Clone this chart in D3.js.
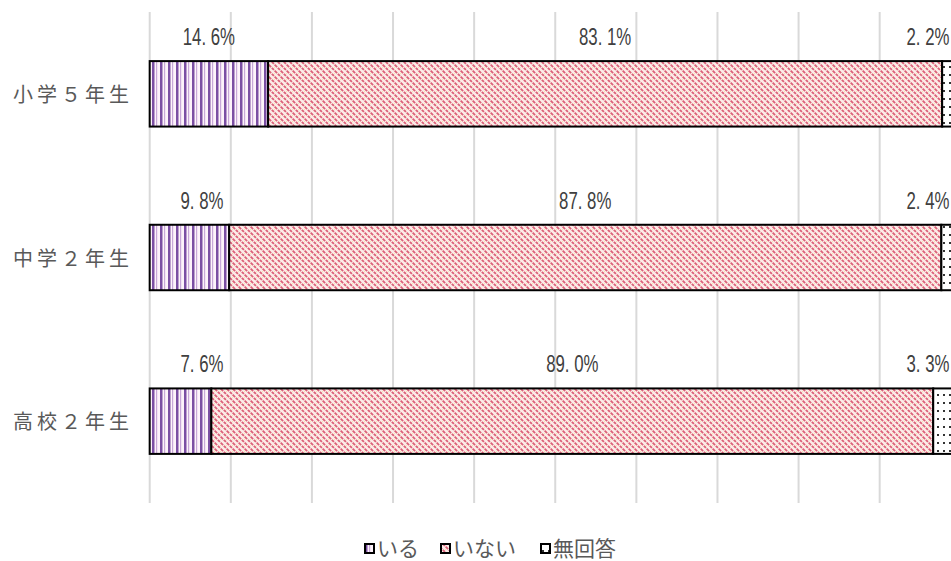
<!DOCTYPE html>
<html>
<head>
<meta charset="utf-8">
<script src="https://cdn.jsdelivr.net/npm/d3@7"></script>
<style>
body { margin: 0; background: #fff; }
</style>
</head>
<body>
<svg></svg>
<script>
// data
let categories = ['小学５年生', '中学２年生', '高校２年生']
let seriesNames = ['いる', 'いない', '無回答']
let iru = [14.6, 9.8, 7.6]
let inai = [83.1, 87.8, 89.0]
let mukaito = [2.2, 2.4, 3.3]
let xTicks = [0, 10, 20, 30, 40, 50, 60, 70, 80, 90]

let width = 951
let height = 561

let svg = d3.select('svg').attr('width', width).attr('height', height)

let rows = categories.map((c, i) => ({cat: c, vals: [iru[i], inai[i], mukaito[i]]}))

let xScale = d3.scaleLinear().domain([0, 100]).range([149.7, 960.8])
let yScale = d3.scaleBand().domain(categories).range([12, 503]).paddingInner(0.6).paddingOuter(0.3)

// patterns
let defs = svg.append('defs')

let p1 = defs.append('pattern').attr('id', 'pIru').attr('patternUnits', 'userSpaceOnUse')
    .attr('width', 8).attr('height', 8)
p1.append('rect').attr('width', 8).attr('height', 8).attr('fill', '#fdf3fa')
p1.append('rect').attr('x', 0).attr('width', 2.5).attr('height', 8).attr('fill', '#7b4fa3')
p1.append('rect').attr('x', 4).attr('width', 1.2).attr('height', 8).attr('fill', '#c8a8d8')

let p2 = defs.append('pattern').attr('id', 'pInai').attr('patternUnits', 'userSpaceOnUse')
    .attr('width', 6).attr('height', 6)
p2.append('rect').attr('width', 6).attr('height', 6).attr('fill', '#fcece8')
p2.append('path').attr('d', 'M-1,-1 L7,7 M-4,2 L1,7 M2,-4 L7,1')
    .attr('stroke', '#dc6078').attr('stroke-width', 1.8).attr('stroke-dasharray', '3,1')
p2.append('rect').attr('x', 4).attr('y', 1).attr('width', 1).attr('height', 1).attr('fill', '#f5eab0')

let p3 = defs.append('pattern').attr('id', 'pMu').attr('patternUnits', 'userSpaceOnUse')
    .attr('width', 6).attr('height', 8)
p3.append('rect').attr('width', 6).attr('height', 8).attr('fill', '#fff')
p3.append('rect').attr('x', 1).attr('y', 2).attr('width', 2).attr('height', 2).attr('fill', '#333')

let fills = ['url(#pIru)', 'url(#pInai)', 'url(#pMu)']

// gridlines
svg.append('g').selectAll('line')
    .data(xTicks)
    .enter()
    .append('line')
    .attr('x1', d => xScale(d)).attr('x2', d => xScale(d))
    .attr('y1', 12).attr('y2', 503)
    .attr('stroke', '#d9d9d9').attr('stroke-width', 2)

// bars
let rowG = svg.selectAll('.row')
    .data(rows)
    .enter()
    .append('g')
    .attr('class', 'row')

rowG.each(function (r) {
    let g = d3.select(this)
    let start = 0
    let segs = r.vals.map((v, k) => {
        let s = {v: v, k: k, x0: start, x1: start + v}
        start += v
        return s
    })
    g.selectAll('rect')
        .data(segs)
        .enter()
        .append('rect')
        .attr('x', d => xScale(d.x0))
        .attr('width', d => xScale(d.x1) - xScale(d.x0))
        .attr('y', yScale(r.cat))
        .attr('height', yScale.bandwidth())
        .attr('fill', d => fills[d.k])
        .attr('stroke', '#000').attr('stroke-width', 2)

    g.selectAll('g.lbl')
        .data(segs)
        .enter()
        .append('g')
        .attr('class', 'lbl')
        .attr('transform', d => {
            let cx = Math.max(202, Math.min(928, (xScale(d.x0) + xScale(d.x1)) / 2))
            return 'translate(' + cx + ',' + (yScale(r.cat) - 16) + ') scale(0.7,1)'
        })
        .append('text')
        .attr('text-anchor', 'middle')
        .attr('font-family', '"Liberation Sans", sans-serif')
        .attr('font-size', 24)
        .attr('fill', '#404040')
        .text(d => d.v.toFixed(1).replace('.', '. ') + '%')
})

// category labels
svg.append('g').selectAll('text')
    .data(categories)
    .enter()
    .append('text')
    .attr('x', 133)
    .attr('y', d => yScale(d) + yScale.bandwidth() / 2 + 8)
    .attr('text-anchor', 'end')
    .attr('font-family', '"Noto Sans CJK JP", sans-serif')
    .attr('font-size', 20)
    .attr('letter-spacing', 4)
    .attr('fill', '#595959')
    .text(d => d)

// legend
let legendX = [365, 441, 541]
let legend = svg.append('g').selectAll('g')
    .data(seriesNames)
    .enter()
    .append('g')
    .attr('transform', (d, i) => 'translate(' + legendX[i] + ',548)')

legend.append('rect')
    .attr('x', 0).attr('y', -4).attr('width', 9).attr('height', 9)
    .attr('fill', (d, i) => fills[i])
    .attr('stroke', '#000').attr('stroke-width', 2)

legend.append('text')
    .attr('x', 12).attr('y', 8)
    .attr('font-family', '"Noto Sans CJK JP", sans-serif')
    .attr('font-size', 21)
    .attr('fill', '#595959')
    .text(d => d)
</script>
</body>
</html>
